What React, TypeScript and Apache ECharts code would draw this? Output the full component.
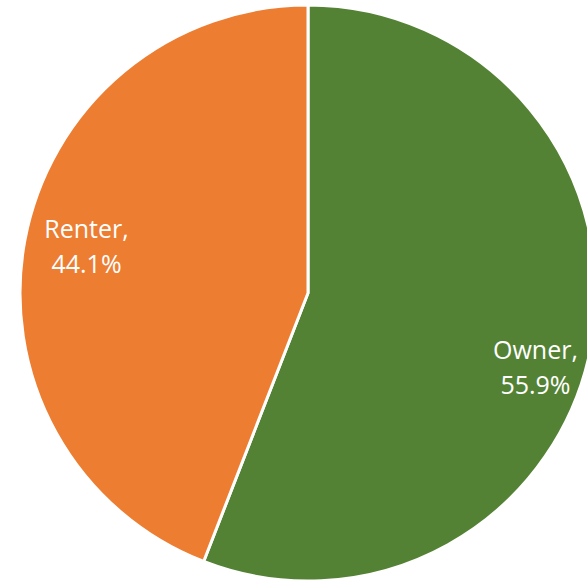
import React, { useEffect, useRef } from "react";
import * as echarts from "echarts";

const categories = ["Owner", "Renter"];
const values = [55.9, 44.1];
const colors = ["#548235", "#ED7D31"];
const labelShift = [
  [83, 46],
  [-77, -20],
];

export default function App() {
  const ref = useRef<HTMLDivElement>(null);
  useEffect(() => {
    if (!ref.current) return;
    const chart = echarts.init(ref.current, null, { renderer: "svg" });
    chart.setOption({
      animation: false,
      backgroundColor: "#ffffff",
      series: [
        {
          type: "pie",
          center: [308, 293],
          radius: [0, 288],
          startAngle: 90,
          clockwise: true,
          avoidLabelOverlap: false,
          itemStyle: { borderColor: "#ffffff", borderWidth: 3 },
          label: {
            show: true,
            position: "inside",
            color: "#ffffff",
            fontFamily: "Open Sans",
            fontSize: 25,
            lineHeight: 35,
            align: "center",
            formatter: (p: any) => `${p.name},\n${p.value.toFixed(1)}%`,
          },
          labelLine: { show: false },
          labelLayout: (p: any) => ({
            dx: labelShift[p.dataIndex][0],
            dy: labelShift[p.dataIndex][1],
          }),
          data: categories.map((c, i) => ({
            name: c,
            value: values[i],
            itemStyle: { color: colors[i] },
          })),
        },
      ],
    });
    return () => chart.dispose();
  }, []);
  return (
    <div
      ref={ref}
      style={{ position: "fixed", left: 0, top: 0, width: 587, height: 582 }}
    />
  );
}
